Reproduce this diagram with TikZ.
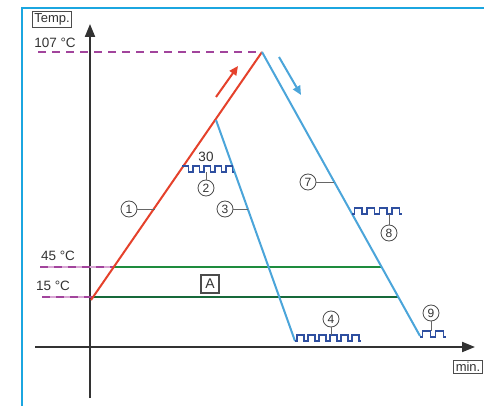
\documentclass[tikz,border=0pt]{standalone}
\usepackage{fontspec}
\setmainfont{Liberation Sans}
\usetikzlibrary{arrows.meta,calc}
\definecolor{cyanb}{HTML}{1BA6E0}
\definecolor{redl}{HTML}{E5412B}
\definecolor{bluel}{HTML}{4BA5DA}
\definecolor{greenA}{HTML}{1E8C3E}
\definecolor{greenB}{HTML}{17693A}
\definecolor{purp}{HTML}{A2449C}
\definecolor{pinkl}{HTML}{D9A6D4}
\definecolor{squigc}{HTML}{2E4FA0}
\definecolor{axisc}{HTML}{333333}
\tikzset{
  lbl/.style={font=\fontsize{13.5}{15}\selectfont, inner sep=0pt, text=black!80},
  boxlbl/.style={font=\fontsize{13}{14}\selectfont, draw=black!70, line width=1.1pt, inner sep=2.2pt, text=black!80},
  num/.style={circle, draw=black!70, line width=0.8pt, minimum size=16pt, inner sep=0pt, font=\fontsize{12}{13}\selectfont, text=black!80},
  leader/.style={draw=black!60, line width=0.8pt},
  dashp/.style={purp, line width=2.2pt, dash pattern=on 8pt off 6pt},
  underp/.style={pinkl, line width=2.2pt},
  redline/.style={redl, line width=2pt},
  blueline/.style={bluel, line width=2pt},
  pics/squig/.style 2 args={code={
    \draw[squigc, line width=1.6pt] (0,0) \foreach \i in {1,...,#1}{ -- ++(#2*0.2,0) -- ++(0,-6) -- ++(#2*0.6,0) -- ++(0,6) -- ++(#2*0.2,0)};
  }},
  pics/squigtop/.style 2 args={code={
    \draw[squigc, line width=1.6pt] (0,-6) \foreach \i in {1,...,#1}{ -- ++(#2*0.6,0) -- ++(0,6) -- ++(#2*0.4,0) -- ++(0,-6)} -- ++(#2*0.6,0) -- ++(0,6) -- ++(#2*0.15,0);
  }}
}
\begin{document}
\begin{tikzpicture}[x=1pt,y=-1pt]
\useasboundingbox (0,0) rectangle (484,406);
\clip (0,0) rectangle (484,406);
\fill[white] (0,0) rectangle (484,406);
% frame
\draw[cyanb, line width=2.2pt] (22,406) -- (22,8) -- (484,8);
% key points
\coordinate (peak) at (262,52);
\coordinate (r0) at (91,300);
\coordinate (b3t) at (216,120);
\coordinate (b3b) at (295,341);
\coordinate (b7b) at (420,336);
\coordinate (g45a) at (114,267);
\coordinate (g45b) at (381,267);
\coordinate (g15a) at (92,297);
\coordinate (g15b) at (398,297);
% axes
\coordinate (ya0) at (90,398);
\coordinate (ya1) at (90,24);
\coordinate (xa0) at (35,347);
\coordinate (xa1) at (475,347);
\draw[axisc, line width=2pt, -{Triangle[length=13pt,width=10pt]}] (ya0) -- (ya1);
\draw[axisc, line width=2pt, -{Triangle[length=13pt,width=10pt]}] (xa0) -- (xa1);
% dashed temperature lines
\coordinate (d107) at (38,52);
\coordinate (d45) at (40,267);
\coordinate (d15) at (42,297);
\draw[dashp] (d107) -- (peak);
\draw[underp] (d45) -- (g45a);
\draw[dashp] (d45) -- (g45a);
\draw[underp] (d15) -- (g15a);
\draw[dashp] (d15) -- (g15a);
% green lines
\draw[greenA, line width=2.6pt] (g45a) -- (g45b);
\draw[greenB, line width=2.6pt] (g15a) -- (g15b);
% red and blue lines
\draw[redline] (r0) -- (peak);
\draw[blueline] (peak) -- (b7b);
\draw[blueline] (b3t) -- (b3b);
% direction arrows
\coordinate (ra0) at (216,97);
\coordinate (ra1) at (238,66);
\coordinate (ba0) at (279,57);
\coordinate (ba1) at (301,95);
\draw[redline, -{Triangle[length=9pt,width=8pt]}] (ra0) -- (ra1);
\draw[blueline, -{Triangle[length=9pt,width=8pt]}] (ba0) -- (ba1);
% squiggles
\pic at (182,172) {squigtop={4}{11}};
\pic at (295,341) {squig={6}{11}};
\pic at (352,214) {squig={4}{12.5}};
\pic at (420,337) {squig={2}{13}};
% labels
\node[boxlbl] (temp) at (52,19.5) {Temp.};
\node[boxlbl, anchor=west] (min) at (453,367) {min.};
\node[lbl] (t107) at (55,43) {107 °C};
\node[lbl] (t45) at (58,256) {45 °C};
\node[lbl] (t15) at (53,286) {15 °C};
\node[lbl] (t30) at (206,157) {30};
\node[boxlbl, font=\fontsize{14}{15}\selectfont, minimum size=18pt, inner sep=1pt] (A) at (210,284) {A};
% numbered circles
\node[num] (n1) at (129,209) {1};
\coordinate (p1) at (155,209);
\draw[leader] (n1) -- (p1);
\node[num] (n2) at (206,188) {2};
\coordinate (p2) at (206,172);
\draw[leader] (n2) -- (p2);
\node[num] (n3) at (225,209) {3};
\coordinate (p3) at (248,209);
\draw[leader] (n3) -- (p3);
\node[num] (n4) at (331,319) {4};
\coordinate (p4) at (331,335);
\draw[leader] (n4) -- (p4);
\node[num] (n7) at (308,182) {7};
\coordinate (p7) at (334,182);
\draw[leader] (n7) -- (p7);
\node[num] (n8) at (389,233) {8};
\coordinate (p8) at (389,214);
\draw[leader] (n8) -- (p8);
\node[num] (n9) at (431,313) {9};
\coordinate (p9) at (431,331);
\draw[leader] (n9) -- (p9);
\end{tikzpicture}
\end{document}
